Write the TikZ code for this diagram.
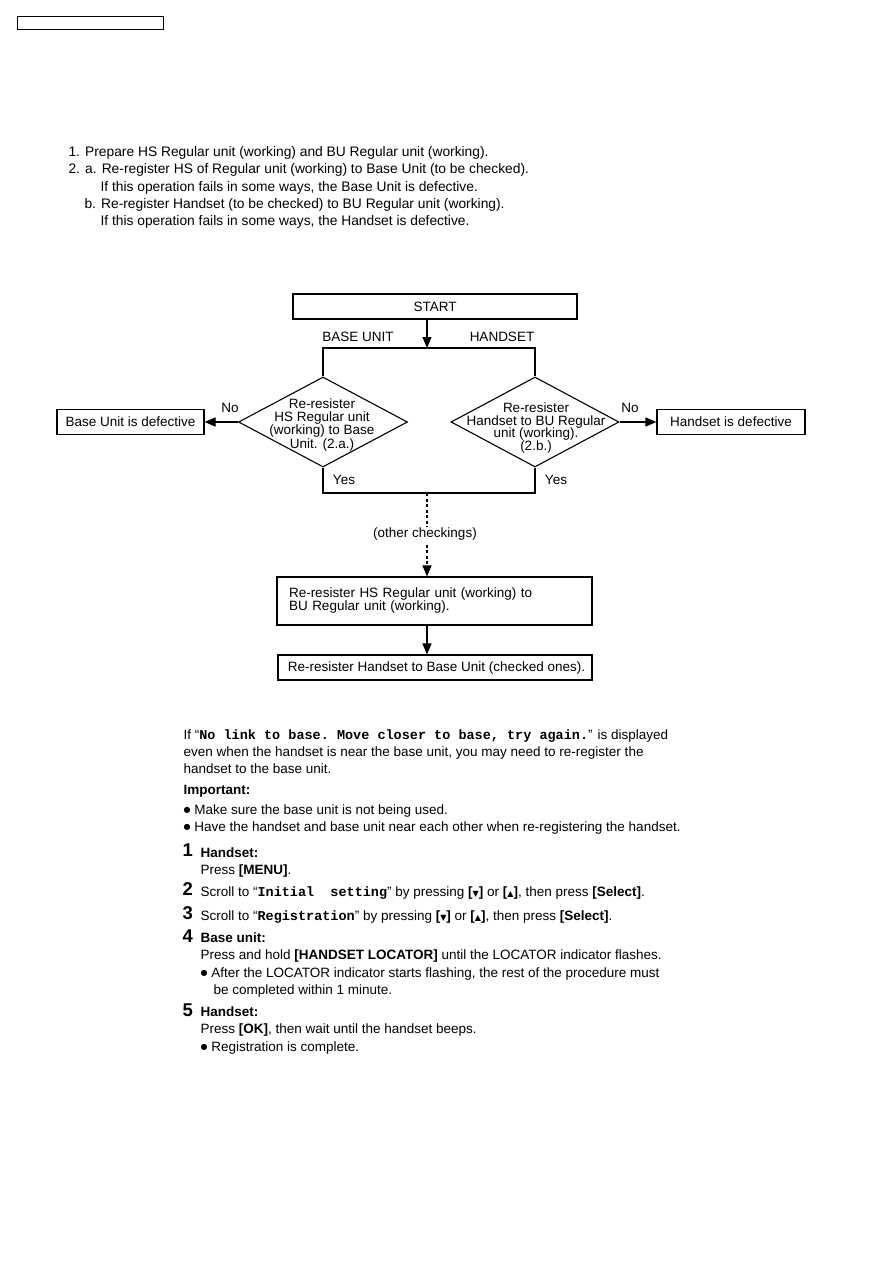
\documentclass[tikz,border=0pt]{standalone}
\usepackage{fontspec}
\setmainfont{Liberation Sans}
\setmonofont{Liberation Mono}
\newfontfamily\symfont{DejaVu Sans}
\usetikzlibrary{positioning,shapes.geometric,arrows.meta}

\newcommand{\keyname}[1]{\textbf{[}\textbf{#1}\textbf{]}}
\newcommand{\keyarrow}[1]{\textbf{[}{\symfont\fontsize{8}{8}\selectfont #1}\textbf{]}}
\newcommand{\dotmark}{\raisebox{1.6pt}{\symfont\fontsize{8}{8}\selectfont ●}}

\begin{document}
\begin{tikzpicture}[x=1pt, y=-1pt, line width=1.1pt,
  font=\fontsize{13.5}{17}\selectfont,
  box/.style={draw, rectangle, inner sep=0pt, minimum height=25pt},
  decision/.style={draw, diamond, inner sep=0pt, minimum width=169pt, minimum height=90pt},
  flow/.style={-{Triangle[length=11pt,width=9pt]}},
  note/.style={inner sep=0pt, anchor=base west},
  tag/.style={inner sep=0pt},
  stepnum/.style={inner sep=0pt, anchor=base west, font=\fontsize{18.5}{18.5}\selectfont\bfseries}]
  \useasboundingbox (0,0) rectangle (893,1263);

  \node[draw, line width=1pt, minimum width=146pt, minimum height=13pt, inner sep=0pt] (page-tag) at (90,23.5) {};

  % procedure
  \begin{scope}[font=\fontsize{13.8}{17}\selectfont]
  \node[note] (intro-1) at (68,156) {1. Prepare HS Regular unit (working) and BU Regular unit (working).};
  \node[note] (intro-2) at (68,173) {2. a. Re-register HS of Regular unit (working) to Base Unit (to be checked).};
  \node[note] (intro-3) at (100,191) {If this operation fails in some ways, the Base Unit is defective.};
  \node[note] (intro-4) at (84,208) {b. Re-register Handset (to be checked) to BU Regular unit (working).};
  \node[note] (intro-5) at (100,225) {If this operation fails in some ways, the Handset is defective.};
  \end{scope}

  % flow chart
  \node[box, minimum width=284pt] (start) at (435,306.5) {START};
  \coordinate (split-top) at (427,348);
  \coordinate (join-bottom) at (427,493);

  \node[decision] (base-check) at (323,422) {};
  \node[tag, align=center, font=\fontsize{13.5}{12.5}\selectfont] (base-check-text) at (322,425)
    {Re-resister\\HS Regular unit\\(working) to Base\\Unit. (2.a.)};
  \node[decision, minimum width=168pt] (hs-check) at (535,422) {};
  \node[tag, align=center, font=\fontsize{13.5}{12.8}\selectfont] (hs-check-text) at (536,428)
    {Re-resister\\Handset to BU Regular\\unit (working).\\(2.b.)};

  \node[box, minimum width=147pt] (base-bad) at (130.5,422) {Base Unit is defective};
  \node[box, minimum width=148pt] (hs-bad) at (731,422) {Handset is defective};

  \node[tag] (base-label) at (358,337) {BASE UNIT};
  \node[tag] (hs-label) at (502,337) {HANDSET};
  \node[tag] (base-no) at (230,408) {No};
  \node[tag] (hs-no) at (630,408) {No};
  \node[tag] (base-yes) at (344,480) {Yes};
  \node[tag] (hs-yes) at (556,480) {Yes};
  \node[tag] (other) at (425,534) {(other checkings)};

  \node[box, minimum width=315pt, minimum height=48pt, text width=291pt, inner xsep=12pt,
        align=left, font=\fontsize{13.5}{13}\selectfont] (recheck-1) at (434.5,601)
    {Re-resister HS Regular unit (working) to\\BU Regular unit (working).};
  \node[box, minimum width=314pt] (recheck-2) at (435,667.5)
    {\hspace*{3pt}Re-resister Handset to Base Unit (checked ones).};

  \draw[flow] (start.south -| split-top) -- (split-top);
  \draw (base-check.north) -- (base-check.north |- split-top) -- (hs-check.north |- split-top) -- (hs-check.north);
  \draw[flow] (base-check.west) -- (base-bad.east);
  \draw[flow] (hs-check.east) -- (hs-bad.west);
  \draw (base-check.south) -- (base-check.south |- join-bottom) -- (hs-check.south |- join-bottom) -- (hs-check.south);
  \draw[dash pattern=on 3pt off 2.5pt] (join-bottom) -- (join-bottom |- other.north) ++(0,-5);
  \draw[flow, dash pattern=on 3pt off 2.5pt] (other.south -| join-bottom) ++(0,4) -- (recheck-1.north -| join-bottom);
  \draw[flow] (recheck-1.south -| join-bottom) -- (recheck-2.north -| join-bottom);

  % registration text
  \node[note] (hint-1) at (183,739) {If “\texttt{\bfseries No link to base. Move closer to base, try again.}” is displayed};
  \node[note] (hint-2) at (183,756) {even when the handset is near the base unit, you may need to re-register the};
  \node[note] (hint-3) at (183,773) {handset to the base unit.};
  \node[note, font=\fontsize{13.5}{17}\selectfont\bfseries] (important) at (183,794) {Important:};
  \node[note] (important-1) at (183,814) {\dotmark\ Make sure the base unit is not being used.};
  \node[note] (important-2) at (183,831) {\dotmark\ Have the handset and base unit near each other when re-registering the handset.};

  \node[stepnum] (step-1) at (182,856) {1};
  \node[note, font=\fontsize{13.5}{17}\selectfont\bfseries] (step-1-who) at (200,857) {Handset:};
  \node[note] (step-1-do) at (200,874) {Press \keyname{MENU}.};
  \node[stepnum] (step-2) at (182,895) {2};
  \node[note] (step-2-do) at (200,896) {Scroll to “\texttt{\bfseries Initial\ \ setting}” by pressing \keyarrow{▼} or \keyarrow{▲}, then press \keyname{Select}.};
  \node[stepnum] (step-3) at (182,919) {3};
  \node[note] (step-3-do) at (200,920) {Scroll to “\texttt{\bfseries Registration}” by pressing \keyarrow{▼} or \keyarrow{▲}, then press \keyname{Select}.};
  \node[stepnum] (step-4) at (182,942) {4};
  \node[note, font=\fontsize{13.5}{17}\selectfont\bfseries] (step-4-who) at (200,942) {Base unit:};
  \node[note] (step-4-do) at (200,959) {Press and hold \keyname{HANDSET LOCATOR} until the LOCATOR indicator flashes.};
  \node[note] (step-4-note) at (200,977) {\dotmark\ After the LOCATOR indicator starts flashing, the rest of the procedure must};
  \node[note] (step-4-note-b) at (213,994) {be completed within 1 minute.};
  \node[stepnum] (step-5) at (182,1016) {5};
  \node[note, font=\fontsize{13.5}{17}\selectfont\bfseries] (step-5-who) at (200,1016) {Handset:};
  \node[note] (step-5-do) at (200,1033) {Press \keyname{OK}, then wait until the handset beeps.};
  \node[note] (step-5-note) at (200,1051) {\dotmark\ Registration is complete.};
\end{tikzpicture}
\end{document}
